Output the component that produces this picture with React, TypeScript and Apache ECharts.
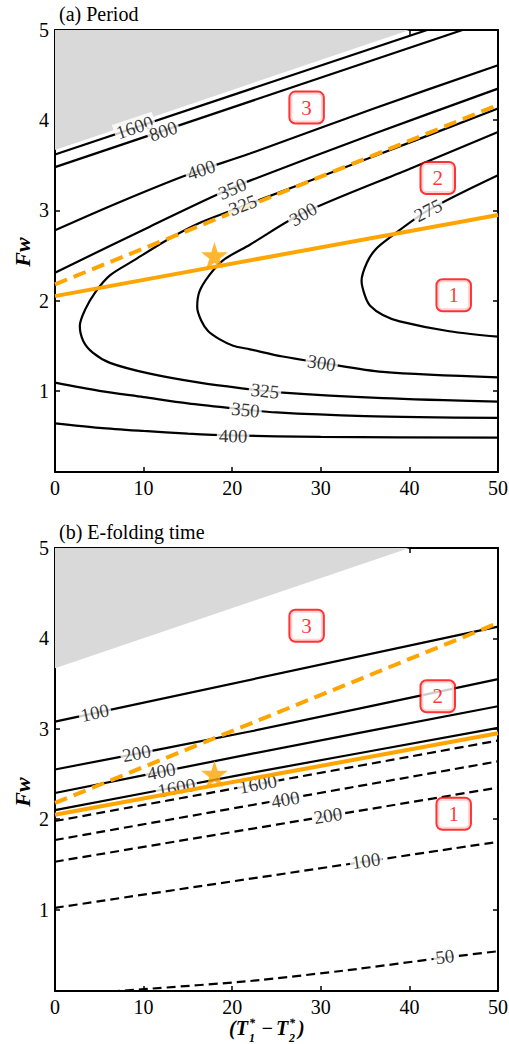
import React, { useEffect, useRef } from "react";
import * as echarts from "echarts";

const FONT = "Liberation Serif";

// ---- axes ----
const xTickValues = [0, 10, 20, 30, 40, 50];
const yLabelValues = [1, 2, 3, 4, 5];
const yTickValues = [1, 2, 3, 4];

// ---- shared marks ----
const unstableBoundary = [[0, 3.67], [40, 5]];
const solidOrange = [[0, 2.05], [50, 2.95]];
const dashedOrange = [[0, 2.18], [50, 4.17]];
const starPoint = [[18, 2.5]];
const regionLabels: [number, number, string][] = [[28.4, 4.14, "3"], [43.2, 3.36, "2"], [45, 2.06, "1"]];

// ---- panel (a) Period contours ----
const period1600 = [[0, 3.62], [42, 5]];
const period800 = [[0, 3.48], [46, 5]];
const period400Upper = [[0, 2.78], [7, 3.08], [14.8, 3.39], [22, 3.63], [36, 4.13], [50, 4.61]];
const period350Upper = [[0, 2.31], [10.7, 2.82], [18.2, 3.17], [22, 3.33], [36, 3.85], [50, 4.35]];
const period325 = [[50, 4.13], [36, 3.6], [20.5, 3.02], [16.3, 2.86], [12.6, 2.67], [8.8, 2.44], [6.2, 2.28], [4.6, 2.1], [3.4, 1.9], [2.8, 1.72], [3.2, 1.55], [4.3, 1.42], [6.2, 1.31], [10.7, 1.19], [16.3, 1.09], [20.9, 1.03], [25.7, 0.98], [37, 0.92], [50, 0.88]];
const period300 = [[50, 3.87], [40, 3.46], [28, 2.97], [22, 2.62], [19, 2.45], [17.4, 2.28], [16.3, 2.1], [16.05, 1.93], [16.5, 1.78], [17.3, 1.66], [18.6, 1.57], [20.1, 1.5], [22, 1.46], [25.7, 1.38], [30.1, 1.31], [37, 1.21], [50, 1.15]];
const period275 = [[50, 3.39], [42.1, 3.0], [37.8, 2.7], [36.2, 2.57], [35.2, 2.42], [34.6, 2.22], [35.0, 2.05], [35.6, 1.94], [37, 1.84], [38.9, 1.77], [44.5, 1.66], [50, 1.6]];
const period350Lower = [[0, 1.09], [5, 1.0], [10, 0.93], [15, 0.86], [19.7, 0.81], [25, 0.76], [35, 0.72], [50, 0.7]];
const period400Lower = [[0, 0.64], [5, 0.59], [10, 0.555], [15, 0.525], [20, 0.505], [30, 0.49], [50, 0.48]];
const periodLabels: [number, number, string][] = [
  [9.0, 3.92, "1600"], [12.2, 3.88, "800"], [16.5, 3.45, "400"], [20.0, 3.24, "350"],
  [21.2, 3.06, "325"], [28, 2.96, "300"], [42.1, 3.0, "275"], [30.1, 1.31, "300"],
  [23.7, 1.0, "325"], [21.5, 0.79, "350"], [20.1, 0.5, "400"],
];

// ---- panel (b) E-folding time contours ----
const efold100 = [[0, 3.08], [50, 4.13]];
const efold200 = [[0, 2.55], [22, 2.97], [50, 3.55]];
const efold400 = [[0, 2.29], [22, 2.72], [50, 3.25]];
const efold1600 = [[0, 2.1], [22, 2.51], [50, 3.01]];
const efoldNeg1600 = [[0, 1.98], [50, 2.87]];
const efoldNeg400 = [[0, 1.77], [50, 2.64]];
const efoldNeg200 = [[0, 1.53], [50, 2.35]];
const efoldNeg100 = [[0, 1.02], [50, 1.75]];
const efoldNeg50 = [[0, 0.05], [10, 0.12], [22, 0.21], [33, 0.33], [44, 0.47], [50, 0.54]];
const efoldLabels: [number, number, string][] = [
  [4.5, 3.18, "100"], [9.2, 2.73, "200"], [12.0, 2.53, "400"], [13.7, 2.35, "1600"],
  [22.9, 2.39, "1600"], [26, 2.22, "400"], [30.8, 2.04, "200"], [35.1, 1.54, "100"], [44, 0.48, "50"],
];

const KX = 443 / 50;
const KY = 442 / 4.9;

function angleAt(pt: any[], curves: number[][][]) {
  let best = Infinity;
  let ang = 0;
  const px = pt[0] * KX, py = pt[1] * KY;
  for (const c of curves) {
    for (let i = 0; i < c.length - 1; i++) {
      const ax = c[i][0] * KX, ay = c[i][1] * KY, bx = c[i + 1][0] * KX, by = c[i + 1][1] * KY;
      const dx = bx - ax, dy = by - ay;
      const L = dx * dx + dy * dy;
      let t = L ? ((px - ax) * dx + (py - ay) * dy) / L : 0;
      t = Math.max(0, Math.min(1, t));
      const qx = ax + t * dx - px, qy = ay + t * dy - py;
      const d = qx * qx + qy * qy;
      if (d < best) {
        best = d;
        let a = (Math.atan2(dy, dx) * 180) / Math.PI;
        if (a > 90) a -= 180;
        if (a <= -90) a += 180;
        ang = a;
      }
    }
  }
  return ang;
}

const STAR = "path://M50,0 L61.2,34.5 L97.6,34.5 L68.2,55.9 L79.4,90.5 L50,69.1 L20.6,90.5 L31.8,55.9 L2.4,34.5 L38.8,34.5 Z";

function axesFor(gi: number) {
  const line = { show: true, onZero: false, lineStyle: { color: "#000", width: 2 } };
  const tick = { show: true, inside: true, length: 5, lineStyle: { color: "#000", width: 1.5 } };
  const lbl = { color: "#000", fontSize: 20, fontFamily: FONT };
  const x = [
    { type: "value", gridIndex: gi, min: 0, max: 50, interval: 10, position: "bottom", axisLine: line, axisTick: tick, axisLabel: { ...lbl, margin: 6, customValues: xTickValues }, splitLine: { show: false } },
    { type: "value", gridIndex: gi, min: 0, max: 50, interval: 10, position: "top", axisLine: line, axisTick: tick, axisLabel: { show: false }, splitLine: { show: false } },
  ];
  const y = [
    { type: "value", gridIndex: gi, min: 0.1, max: 5, position: "left", axisLine: line, axisTick: { ...tick, customValues: yTickValues }, axisLabel: { ...lbl, margin: 6, customValues: yLabelValues }, splitLine: { show: false } },
    { type: "value", gridIndex: gi, min: 0.1, max: 5, position: "right", axisLine: line, axisTick: { ...tick, customValues: yTickValues }, axisLabel: { show: false }, splitLine: { show: false } },
  ];
  return { x, y };
}

function contour(data: number[][], ai: number, dashed = false, smooth: number | boolean = false) {
  return {
    type: "line", xAxisIndex: ai, yAxisIndex: ai, data, showSymbol: false, symbol: "none", smooth, silent: true, z: 2,
    lineStyle: { color: "#000", width: 2.2, type: dashed ? [9, 5] : "solid" },
  };
}

function labelSeries(labels: [number, number, string][], curves: number[][][], ai: number) {
  return {
    type: "scatter", xAxisIndex: ai, yAxisIndex: ai, symbolSize: 1, silent: true, z: 3,
    itemStyle: { color: "rgba(0,0,0,0)" },
    label: { show: true, position: "inside", formatter: "{b}", color: "#000", fontSize: 19, fontFamily: FONT, backgroundColor: "#fff", padding: [0, 2] },
    data: labels.map((l) => ({ name: l[2], value: [l[0], l[1]], label: { rotate: angleAt(l, curves) } })),
  };
}

function commonSeries(ai: number, orangeZ: number) {
  return [
    {
      type: "line", xAxisIndex: ai, yAxisIndex: ai, data: unstableBoundary, showSymbol: false, symbol: "none", silent: true, z: 1,
      lineStyle: { width: 0, color: "#d9d9d9" }, areaStyle: { color: "#d9d9d9", opacity: 1, origin: "end" },
    },
    { type: "line", xAxisIndex: ai, yAxisIndex: ai, data: solidOrange, showSymbol: false, symbol: "none", silent: true, z: orangeZ, lineStyle: { color: "#FFA500", width: 4 } },
    { type: "line", xAxisIndex: ai, yAxisIndex: ai, data: dashedOrange, showSymbol: false, symbol: "none", silent: true, z: orangeZ, lineStyle: { color: "#FFA500", width: 4, type: [13, 7] } },
    { type: "scatter", xAxisIndex: ai, yAxisIndex: ai, data: starPoint, symbol: STAR, symbolSize: 27, silent: true, z: 6, itemStyle: { color: "#FFA500" } },
    {
      type: "scatter", xAxisIndex: ai, yAxisIndex: ai, symbolSize: 1, silent: true, z: 6, itemStyle: { color: "rgba(0,0,0,0)" },
      label: { show: true, position: "inside", formatter: "{b}", color: "#ff0000", fontSize: 21, fontFamily: FONT, backgroundColor: "#fff", borderColor: "#ff0000", borderWidth: 2, borderRadius: 5, padding: [5, 11, 4, 11] },
      data: regionLabels.map((r) => ({ name: r[2], value: [r[0], r[1]] })),
    },
  ];
}

export default function App() {
  const ref = useRef<HTMLDivElement>(null);
  useEffect(() => {
    if (!ref.current) return;
    const chart = echarts.init(ref.current, undefined, { renderer: "svg" });
    const a = axesFor(0);
    const b = axesFor(1);
    const periodCurves = [period1600, period800, period400Upper, period350Upper, period325, period300, period275, period350Lower, period400Lower];
    const efoldSolid = [efold100, efold200, efold400, efold1600];
    const efoldDashed = [efoldNeg1600, efoldNeg400, efoldNeg200, efoldNeg100, efoldNeg50];
    const titleStyle = { fontFamily: FONT, fontSize: 20, fill: "#000", align: "left", verticalAlign: "middle" };
    const bi = { fontFamily: FONT, fontWeight: "bold", fontStyle: "italic", fill: "#000", verticalAlign: "middle" };
    chart.setOption({
      animation: false,
      backgroundColor: "#fff",
      grid: [
        { left: 55, top: 30, width: 443, height: 442, outerBoundsMode: "none" },
        { left: 55, top: 548, width: 443, height: 443, outerBoundsMode: "none" },
      ],
      xAxis: [a.x[0], b.x[0], a.x[1], b.x[1]].map((ax, i) => ({ ...ax, gridIndex: i % 2 })),
      yAxis: [a.y[0], b.y[0], a.y[1], b.y[1]].map((ax, i) => ({ ...ax, gridIndex: i % 2 })),
      series: [
        ...periodCurves.map((c) => contour(c, 0, false, 0.3)),
        ...commonSeries(0, 2),
        labelSeries(periodLabels, periodCurves, 0),
        ...efoldSolid.map((c) => contour(c, 1, false, 0.2)),
        ...efoldDashed.map((c) => contour(c, 1, true, 0.2)),
        labelSeries(efoldLabels, [...efoldSolid, ...efoldDashed], 1),
        ...commonSeries(1, 4),
      ],
      graphic: [
        { type: "text", x: 59, y: 14, style: { ...titleStyle, text: "(a) Period" } },
        { type: "text", x: 59, y: 532, style: { ...titleStyle, text: "(b) E-folding time" } },
        { type: "text", x: 22, y: 252, rotation: Math.PI / 2, style: { ...bi, text: "Fw", fontSize: 22, align: "center" } },
        { type: "text", x: 22, y: 792, rotation: Math.PI / 2, style: { ...bi, text: "Fw", fontSize: 22, align: "center" } },
        { type: "text", x: 229, y: 1028, style: { ...bi, text: "(T", fontSize: 20, align: "left" } },
        { type: "text", x: 249, y: 1023, style: { ...bi, text: "*", fontSize: 12, align: "left" } },
        { type: "text", x: 249, y: 1038, style: { ...bi, text: "1", fontSize: 12, align: "left" } },
        { type: "text", x: 267, y: 1028, style: { ...bi, text: "\u2212", fontSize: 20, align: "center" } },
        { type: "text", x: 276, y: 1028, style: { ...bi, text: "T", fontSize: 20, align: "left" } },
        { type: "text", x: 289, y: 1023, style: { ...bi, text: "*", fontSize: 12, align: "left" } },
        { type: "text", x: 289, y: 1038, style: { ...bi, text: "2", fontSize: 12, align: "left" } },
        { type: "text", x: 298, y: 1028, style: { ...bi, text: ")", fontSize: 20, align: "left" } },
      ],
    });
    return () => chart.dispose();
  }, []);
  return <div ref={ref} style={{ position: "absolute", left: 0, top: 0, width: 509, height: 1044 }} />;
}
